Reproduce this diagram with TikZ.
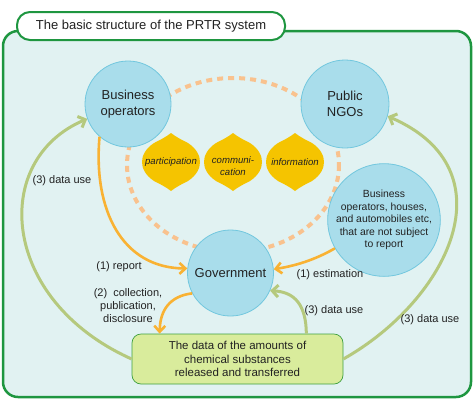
\documentclass[tikz,border=0pt]{standalone}
\usepackage{fontspec}
\setmainfont{Liberation Sans}
\usetikzlibrary{arrows.meta}
\definecolor{bgc}{HTML}{E1F2F2}
\definecolor{framec}{HTML}{1E9640}
\definecolor{circf}{HTML}{A9DDEB}
\definecolor{circd}{HTML}{72C7DE}
\definecolor{leafc}{HTML}{F5C400}
\definecolor{dashc}{HTML}{F9C28E}
\definecolor{orc}{HTML}{F9B233}
\definecolor{grc}{HTML}{B5C97D}
\definecolor{boxf}{HTML}{D9EC9C}
\definecolor{boxd}{HTML}{3FA040}
\definecolor{txt}{HTML}{222222}
\begin{document}
\begin{tikzpicture}[x=1pt,y=-1pt,
  font=\fontsize{11}{13}\selectfont, text=txt,
  bigcirc/.style={circle, fill=circf, draw=circd, line width=0.8pt, inner sep=0pt,
    align=center, font=\fontsize{13}{15.5}\selectfont},
  smallcirctext/.style={font=\fontsize{10.4}{12.5}\selectfont},
  databox/.style={rectangle, rounded corners=9pt, fill=boxf, draw=boxd, line width=0.7pt,
    minimum width=211pt, minimum height=50pt, align=center, inner sep=0pt,
    font=\fontsize{11.5}{13.5}\selectfont},
  titlebox/.style={rectangle, rounded corners=13pt, fill=white, draw=framec, line width=2pt,
    minimum width=268pt, minimum height=28pt, inner sep=0pt, font=\fontsize{13}{15}\selectfont},
  leaftext/.style={align=center, inner sep=0pt, font=\fontsize{9.6}{12}\selectfont\itshape},
  lbl/.style={inner sep=0pt, align=center},
  oarrow/.style={draw=orc, line width=2.6pt, -{Straight Barb[length=6pt,width=11pt]}},
  garrow/.style={draw=grc, line width=3pt, -{Straight Barb[length=6pt,width=12pt]}},
  leaf/.pic={\fill[leafc] (0,-29) .. controls (5,-25) and (11,-22) .. (17,-19)
     .. controls (26,-13) and (29,-6) .. (29,0)
     .. controls (29,6) and (26,13) .. (17,19)
     .. controls (11,22) and (5,25) .. (0,29)
     .. controls (-5,25) and (-11,22) .. (-17,19)
     .. controls (-26,13) and (-29,6) .. (-29,0)
     .. controls (-29,-6) and (-26,-13) .. (-17,-19)
     .. controls (-11,-22) and (-5,-25) .. cycle;}
]
\useasboundingbox (0,0) rectangle (474,400);
% frame
\draw[fill=bgc, draw=framec, line width=2.5pt, rounded corners=15pt] (3,31) rectangle (471,397);
\node[titlebox] (title) at (151,26) {The basic structure of the PRTR system};
% dashed ellipse
\draw[dashc, line width=4pt, dash pattern=on 6pt off 5pt] (233,165) ellipse [x radius=106, y radius=87];
% circles
\node[bigcirc, minimum size=86pt] (bo) at (128,104) {Business\\operators};
\node[bigcirc, minimum size=88pt] (ngo) at (345,104) {Public\\NGOs};
\node[bigcirc, minimum size=86pt] (gov) at (230.5,273) {Government};
\node[bigcirc, minimum size=102pt, smallcirctext] (oth) at (384,220)
  {Business\\operators, houses,\\and automobiles etc,\\that are not subject\\to report};
% data box
\node[databox] (data) at (237.5,359) {The data of the amounts of\\chemical substances\\released and transferred};
% leaves
\pic at (171,162) {leaf};
\pic at (233,162) {leaf};
\pic at (295,162) {leaf};
\node[leaftext] (lf1) at (171,162) {participation};
\node[leaftext] (lf2) at (233,166) {communi-\\cation};
\node[leaftext] (lf3) at (295,162) {information};
% orange arrows
\draw[oarrow] (bo.-131) .. controls (93,210) and (122,268) .. (gov.174);
\draw[oarrow] (oth.-150) .. controls (318,258) and (300,265) .. (gov.5);
\draw[oarrow] (gov.-152) .. controls (170,296) and (160,310) .. ([xshift=28pt]data.north west);
% green arrows
\draw[garrow] ([xshift=-37pt]data.north east) .. controls (306,305) and (295,292) .. (gov.-24);
\draw[garrow] (data.west) .. controls (0,300) and (-10,160) .. (bo.200);
\draw[garrow] (data.east) .. controls (448,300) and (512,170) .. (ngo.-16);
% labels
\node[lbl] (l3a) at (62,181) {(3) data use};
\node[lbl] (l1r) at (119,267) {(1) report};
\node[lbl] (l2) at (128,306) {(2)\ \ collection,\\publication,\\disclosure};
\node[lbl] (l1e) at (330,275) {(1) estimation};
\node[lbl] (l3b) at (334,311) {(3) data use};
\node[lbl] (l3c) at (430,320) {(3) data use};
\end{tikzpicture}
\end{document}
